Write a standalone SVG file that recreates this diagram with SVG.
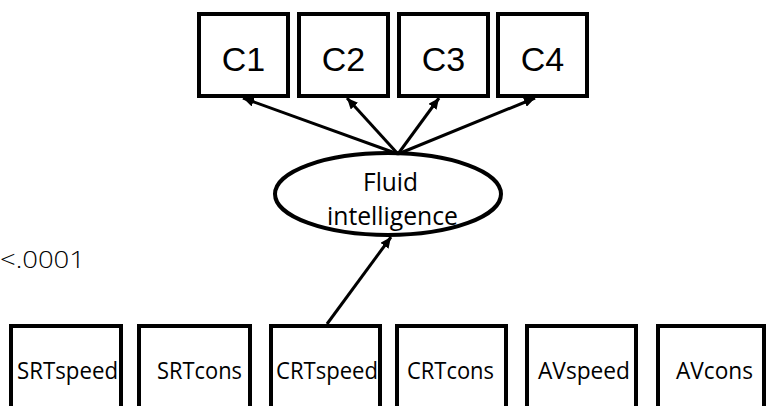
<svg xmlns="http://www.w3.org/2000/svg" width="768" height="406" viewBox="0 0 768 406">
<style>
.box{fill:#fff;stroke:#000;stroke-width:4}
.ell{fill:none;stroke:#000;stroke-width:4}
.ct{font-family:"Liberation Sans",Arial,sans-serif;font-size:34px;fill:#000;text-anchor:middle}
.lt{font-family:"Open Sans",Lato,sans-serif;font-size:23px;fill:#000}
.ft{font-family:"Open Sans",Lato,sans-serif;font-size:25px;fill:#000}
.conn{stroke:#000;stroke-width:3;fill:none}
</style>
<defs>
<marker id="ah" markerUnits="userSpaceOnUse" markerWidth="12" markerHeight="10" refX="11" refY="5" orient="auto">
<path d="M0,0 L11,5 L0,10 z" fill="#000"/>
</marker>
</defs>
<rect width="768" height="406" fill="#fff"/>
<text x="0" y="268" font-family="'Open Sans',Lato,sans-serif" font-weight="300" font-size="24" textLength="85" lengthAdjust="spacingAndGlyphs">&lt;.0001</text>
<g id="C1"><rect class="box" x="199" y="14" width="89" height="82"/><text class="ct" x="243.5" y="71">C1</text></g>
<g id="C2"><rect class="box" x="299" y="14" width="89" height="82"/><text class="ct" x="343.5" y="71">C2</text></g>
<g id="C3"><rect class="box" x="399" y="14" width="89" height="82"/><text class="ct" x="443.5" y="71">C3</text></g>
<g id="C4"><rect class="box" x="498" y="14" width="89" height="82"/><text class="ct" x="542.5" y="71">C4</text></g>
<g id="SRTspeed"><rect class="box" x="11" y="326" width="110" height="90"/><text class="lt" x="17" y="379" textLength="101" lengthAdjust="spacingAndGlyphs">SRTspeed</text></g>
<g id="SRTcons"><rect class="box" x="139" y="326" width="111" height="90"/><text class="lt" x="157" y="379" textLength="85" lengthAdjust="spacingAndGlyphs">SRTcons</text></g>
<g id="CRTspeed"><rect class="box" x="271" y="326" width="109" height="90"/><text class="lt" x="276" y="379" textLength="102" lengthAdjust="spacingAndGlyphs">CRTspeed</text></g>
<g id="CRTcons"><rect class="box" x="397" y="326" width="109" height="90"/><text class="lt" x="407" y="379" textLength="87" lengthAdjust="spacingAndGlyphs">CRTcons</text></g>
<g id="AVspeed"><rect class="box" x="527" y="326" width="109" height="90"/><text class="lt" x="538" y="379" textLength="92" lengthAdjust="spacingAndGlyphs">AVspeed</text></g>
<g id="AVcons"><rect class="box" x="658" y="326" width="106" height="90"/><text class="lt" x="676" y="379" textLength="77" lengthAdjust="spacingAndGlyphs">AVcons</text></g>
<g id="connectors">
<line class="conn" x1="398" y1="154" x2="243" y2="98" marker-end="url(#ah)"/>
<line class="conn" x1="398" y1="154" x2="347" y2="98" marker-end="url(#ah)"/>
<line class="conn" x1="398" y1="154" x2="439" y2="98" marker-end="url(#ah)"/>
<line class="conn" x1="398" y1="154" x2="535" y2="98" marker-end="url(#ah)"/>
<line class="conn" x1="327" y1="324" x2="391" y2="237" marker-end="url(#ah)"/>
</g>
<g id="Fluid">
<ellipse class="ell" cx="388" cy="194" rx="113" ry="41"/>
<text class="ft" x="363" y="191" textLength="55" lengthAdjust="spacingAndGlyphs">Fluid</text>
<text class="ft" x="327" y="225" textLength="131" lengthAdjust="spacingAndGlyphs">intelligence</text>
</g>
</svg>
